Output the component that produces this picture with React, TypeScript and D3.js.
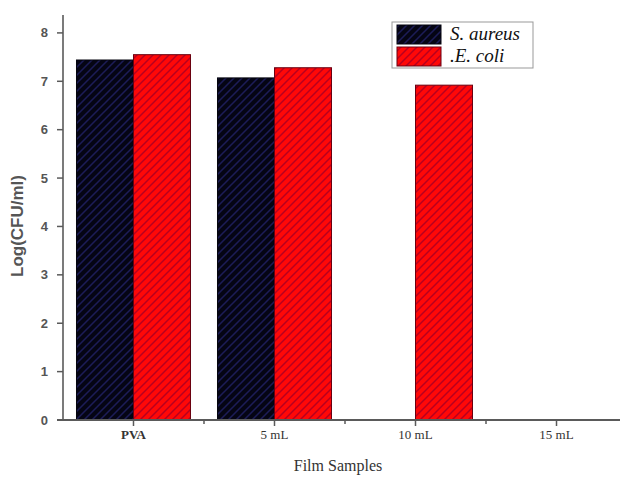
import React from "react";
import * as d3 from "d3";

const categories = ["PVA", "5 mL", "10 mL", "15 mL"];
const series = ["S. aureus", "E. coli"];
const legendLabels = ["S. aureus", ".E. coli"];
const sAureus = [7.44, 7.07, 0, 0];
const eColi = [7.55, 7.28, 6.92, 0];
const yTicks = [0, 1, 2, 3, 4, 5, 6, 7, 8];

const W = 620;
const H = 477;
const left = 63;
const bottom = 420;
const top = 15;

export default function App() {
  const x = d3
    .scaleBand<string>()
    .domain(categories)
    .range([left, left + 564])
    .paddingInner(0.1915)
    .paddingOuter(0.0957);
  const x1 = d3.scaleBand<string>().domain(series).range([0, x.bandwidth()]);
  const y = d3.scaleLinear().domain([0, 8.37]).range([bottom, top]);

  const fills = ["url(#hatchBlack)", "url(#hatchRed)"];
  const strokes = ["#05050f", "#6a0010"];
  const values = [sAureus, eColi];
  const axisColor = "#5a5a5a";

  const minorTicks = categories.slice(0, -1).map((c) => (x(c)! + x.bandwidth() / 2) + x.step() / 2);

  return (
    <svg width={W} height={H} style={{ position: "absolute", left: 0, top: 0, background: "#fff" }}>
      <defs>
        <pattern id="hatchBlack" patternUnits="userSpaceOnUse" width={8} height={8}>
          <rect width={8} height={8} fill="#050514" />
          <path d="M-1,1 l2,-2 M0,8 l8,-8 M7,9 l2,-2" stroke="#1c1c58" strokeWidth={1.5} />
        </pattern>
        <pattern id="hatchRed" patternUnits="userSpaceOnUse" width={8} height={8}>
          <rect width={8} height={8} fill="#ff0808" />
          <path d="M-1,1 l2,-2 M0,8 l8,-8 M7,9 l2,-2" stroke="#b8001e" strokeWidth={1.5} />
        </pattern>
      </defs>

      {/* bars */}
      {categories.map((c, i) => (
        <g key={c}>
          {series.map((s, j) => {
            const v = values[j][i];
            if (v <= 0) return null;
            return (
              <rect
                key={s}
                x={x(c)! + x1(s)!}
                y={y(v)}
                width={x1.bandwidth()}
                height={bottom - y(v)}
                fill={fills[j]}
                stroke={strokes[j]}
                strokeWidth={1}
              />
            );
          })}
        </g>
      ))}

      {/* y axis */}
      <line x1={left} x2={left} y1={top} y2={bottom} stroke={axisColor} strokeWidth={1.6} />
      {yTicks.map((t) => (
        <g key={t}>
          <line x1={left - 6} x2={left} y1={y(t)} y2={y(t)} stroke={axisColor} strokeWidth={1.5} />
          <text
            x={left - 15}
            y={y(t)}
            dy="0.35em"
            textAnchor="end"
            fontFamily="Liberation Sans, Arial, sans-serif"
            fontWeight="bold"
            fontSize={13}
            fill="#555"
          >
            {t}
          </text>
        </g>
      ))}
      <text
        transform={`translate(23, ${226}) rotate(-90)`}
        textAnchor="middle"
        fontFamily="Liberation Sans, Arial, sans-serif"
        fontWeight="bold"
        fontSize={17}
        fill="#555"
      >
        Log(CFU/ml)
      </text>

      {/* x axis */}
      <line x1={left - 6} x2={W} y1={bottom} y2={bottom} stroke={axisColor} strokeWidth={1.8} />
      {categories.map((c) => {
        const cx = x(c)! + x.bandwidth() / 2;
        return (
          <g key={c}>
            <line x1={cx} x2={cx} y1={bottom} y2={bottom + 6} stroke={axisColor} strokeWidth={1.5} />
            <text
              x={cx}
              y={bottom + 19}
              textAnchor="middle"
              fontFamily="Liberation Serif, Times New Roman, serif"
              fontWeight={c === "PVA" ? "bold" : "normal"}
              fontSize={13}
              fill="#333"
            >
              {c}
            </text>
          </g>
        );
      })}
      {minorTicks.map((m, i) => (
        <line key={i} x1={m} x2={m} y1={bottom} y2={bottom + 4} stroke={axisColor} strokeWidth={1.5} />
      ))}
      <text
        x={338}
        y={471}
        textAnchor="middle"
        fontFamily="Liberation Serif, Times New Roman, serif"
        fontSize={16}
        fill="#333"
      >
        Film Samples
      </text>

      {/* legend */}
      <rect x={392} y={22} width={141} height={46} fill="#fff" stroke="#999" strokeWidth={1} />
      {legendLabels.map((l, j) => (
        <g key={l}>
          <rect x={397} y={25 + j * 22} width={44} height={19} fill={fills[j]} stroke={strokes[j]} strokeWidth={1} />
          <text
            x={450}
            y={40 + j * 22}
            fontFamily="Liberation Serif, Times New Roman, serif"
            fontStyle="italic"
            fontSize={19}
            fill="#111"
          >
            {l}
          </text>
        </g>
      ))}
    </svg>
  );
}
